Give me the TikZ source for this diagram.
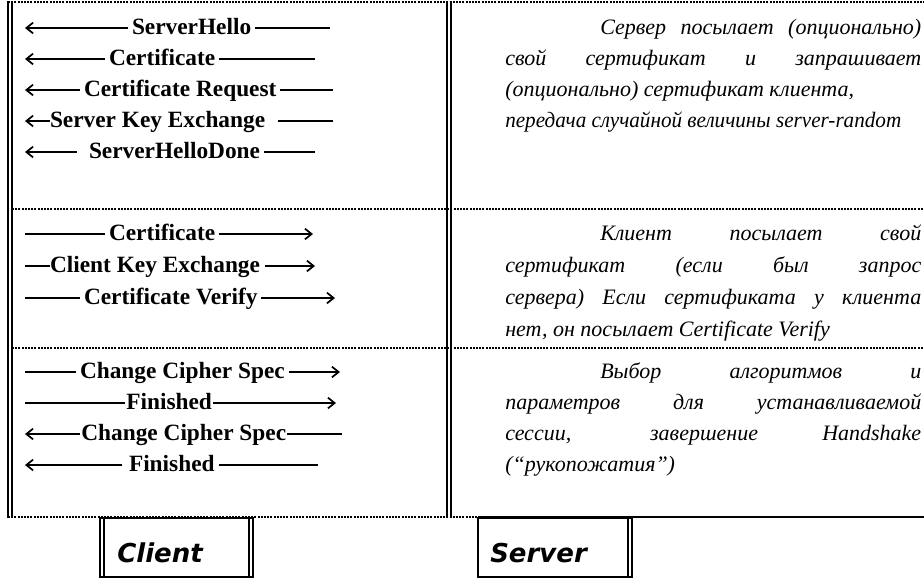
\documentclass[tikz,border=0pt]{standalone}
\usepackage{fontspec}
\usepackage{graphicx}
\setmainfont{Liberation Serif}
\newfontfamily\boxfont{DejaVu Sans}
\usetikzlibrary{arrows.meta}
\begin{document}
\begin{tikzpicture}[x=0.75pt,y=-0.75pt,
  msg/.style={font=\fontsize{17.5}{20}\selectfont\bfseries, inner sep=0pt, outer xsep=3pt, anchor=base west},
  stroke/.style={line width=1.3pt},
  lt/.style={stroke, {Straight Barb[length=5pt,width=8pt]}-},
  rt/.style={stroke, -{Straight Barb[length=5pt,width=8pt]}},
  desc/.style={font=\fontsize{16.5}{20}\selectfont\itshape, inner sep=0pt, anchor=base west},
  sep/.style={line width=1.2pt, dash pattern=on 1.5pt off 0.9pt},
  rule/.style={line width=1.1pt},
  boxrule/.style={line width=2pt},
  lbl/.style={font=\boxfont\fontsize{19.5}{22}\selectfont\bfseries\itshape, inner sep=0pt, anchor=base west}]
\useasboundingbox (0,0) rectangle (924,579);

% ---------- table frame ----------
\coordinate (tl) at (8,2);
\coordinate (tr) at (924,2);
\draw[sep] (tl) -- (tr);
\coordinate (s1l) at (12,209); \coordinate (s1r) at (924,209);
\coordinate (s2l) at (12,348); \coordinate (s2r) at (924,348);
\draw[sep] (s1l) -- (s1r);
\draw[sep] (s2l) -- (s2r);
\coordinate (bl) at (8,517); \coordinate (bm) at (478,517); \coordinate (br) at (924,517);
\draw[sep] (bl) -- (bm);
\draw[line width=1.5pt] (bm) -- (br);
% double verticals
\coordinate (l1t) at (8,1);   \coordinate (l1b) at (8,518);
\coordinate (l2t) at (12,1);  \coordinate (l2b) at (12,518);
\coordinate (m1t) at (447,1); \coordinate (m1b) at (447,518);
\coordinate (m2t) at (451,1); \coordinate (m2b) at (451,518);
\draw[rule] (l1t) -- (l1b);
\draw[rule] (l2t) -- (l2b);
\draw[rule] (m1t) -- (m1b);
\draw[rule] (m2t) -- (m2b);

% ---------- group 1 (server -> client) ----------
\node[msg] (a1) at (128,34) {ServerHello};
\coordinate (a1s) at (25,28); \coordinate (a1e) at (330,28);
\draw[lt] (a1s) -- (a1s -| a1.west);
\draw[stroke] (a1.east |- a1e) -- (a1e);

\node[msg] (a2) at (105,65) {Certificate};
\coordinate (a2s) at (25,59); \coordinate (a2e) at (315,59);
\draw[lt] (a2s) -- (a2s -| a2.west);
\draw[stroke] (a2.east |- a2e) -- (a2e);

\node[msg] (a3) at (80,96) {Certificate Request};
\coordinate (a3s) at (25,90); \coordinate (a3e) at (333,90);
\draw[lt] (a3s) -- (a3s -| a3.west);
\draw[stroke] (a3.east |- a3e) -- (a3e);

\node[msg, outer xsep=0pt] (a4) at (50,127) {Server Key Exchange};
\coordinate (a4s) at (25,121); \coordinate (a4e) at (333,121);
\draw[lt] (a4s) -- (a4s -| a4.west);
\draw[stroke] ([xshift=10]a4.east |- a4e) -- (a4e);

\node[msg] (a5) at (85,158) {ServerHelloDone};
\coordinate (a5s) at (25,152); \coordinate (a5e) at (315,152);
\draw[lt] (a5s) -- ([xshift=-6]a5s -| a5.west);
\draw[stroke] (a5.east |- a5e) -- (a5e);

\node[desc] (d11) at (600,34) {\makebox[240.75pt][s]{Сервер посылает (опционально)}};
\node[desc] (d12) at (505,65) {\makebox[312pt][s]{свой сертификат и запрашивает}};
\node[desc] (d13) at (505,96) {(опционально) сертификат клиента,};
\node[desc] (d14) at (505,127) {\resizebox{297pt}{\height}{передача случайной величины server-random}};

% ---------- group 2 (client -> server) ----------
\node[msg] (b1) at (105,240) {Certificate};
\coordinate (b1s) at (25,234); \coordinate (b1e) at (313,234);
\draw[stroke] (b1s) -- (b1s -| b1.west);
\draw[rt] (b1.east |- b1e) -- (b1e);

\node[msg, outer xsep=0pt] (b2) at (50,272) {Client Key Exchange};
\coordinate (b2s) at (25,266); \coordinate (b2e) at (315,266);
\draw[stroke] (b2s) -- (b2s -| b2.west);
\draw[rt] ([xshift=4]b2.east |- b2e) -- (b2e);

\node[msg] (b3) at (80,304) {Certificate Verify};
\coordinate (b3s) at (25,298); \coordinate (b3e) at (335,298);
\draw[stroke] (b3s) -- (b3s -| b3.west);
\draw[rt] (b3.east |- b3e) -- (b3e);

\node[desc] (d21) at (600,240) {\makebox[240.75pt][s]{Клиент посылает свой}};
\node[desc] (d22) at (505,272) {\makebox[312pt][s]{сертификат (если был запрос}};
\node[desc] (d23) at (505,304) {\makebox[312pt][s]{сервера) Если сертификата у клиента}};
\node[desc] (d24) at (505,336) {нет, он посылает Certificate Verify};

% ---------- group 3 ----------
\node[msg] (c1) at (76,378) {Change Cipher Spec};
\coordinate (c1s) at (25,372); \coordinate (c1e) at (340,372);
\draw[stroke] (c1s) -- (c1s -| c1.west);
\draw[rt] (c1.east |- c1e) -- (c1e);

\node[msg, outer xsep=1pt] (c2) at (125,409) {Finished};
\coordinate (c2s) at (25,403); \coordinate (c2e) at (336,403);
\draw[stroke] (c2s) -- (c2s -| c2.west);
\draw[rt] (c2.east |- c2e) -- (c2e);

\node[msg, outer xsep=1pt] (c3) at (80,440) {Change Cipher Spec};
\coordinate (c3s) at (25,434); \coordinate (c3e) at (342,434);
\draw[lt] (c3s) -- (c3s -| c3.west);
\draw[stroke] (c3.east |- c3e) -- (c3e);

\node[msg] (c4) at (125,471) {Finished};
\coordinate (c4s) at (25,465); \coordinate (c4e) at (318,465);
\draw[lt] (c4s) -- ([xshift=-2]c4s -| c4.west);
\draw[stroke] (c4.east |- c4e) -- (c4e);

\node[desc] (d31) at (600,378) {\makebox[240.75pt][s]{Выбор алгоритмов и}};
\node[desc] (d32) at (505,409) {\makebox[312pt][s]{параметров для устанавливаемой}};
\node[desc] (d33) at (505,440) {\makebox[312pt][s]{сессии, завершение Handshake}};
\node[desc] (d34) at (505,471) {(“рукопожатия”)};

% ---------- Client / Server boxes ----------
\draw[boxrule] (100,518) rectangle (253,577);
\draw[rule] (104,518) -- (104,577);
\draw[rule] (249,518) -- (249,577);
\node[lbl] (client) at (117,562) {Client};

\draw[boxrule] (478,518) rectangle (632,577);
\draw[rule] (628,518) -- (628,577);
\node[lbl] (server) at (490,562) {Server};
\end{tikzpicture}
\end{document}
